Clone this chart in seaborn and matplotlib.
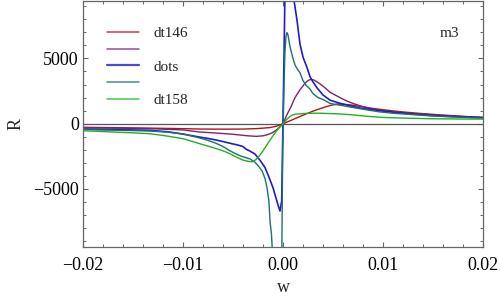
import numpy as np
import matplotlib
matplotlib.use("Agg")
import matplotlib.pyplot as plt
from matplotlib.lines import Line2D
from matplotlib.ticker import MultipleLocator
import seaborn as sns

# values (w, R)
red_w = [-0.02, -0.016, -0.0133, -0.01, -0.0083, -0.006, -0.004, -0.0027, -0.002, -0.0013,
         -0.0006, 0.0, 0.0007, 0.0013, 0.002, 0.003, 0.0037, 0.0043, 0.0047, 0.0054,
         0.006, 0.0063, 0.007, 0.0077, 0.0087, 0.0097, 0.011, 0.012, 0.0135, 0.0147,
         0.016, 0.0175, 0.0185, 0.02]
red_r = [-280, -310, -340, -380, -410, -420, -410, -380, -340, -300,
         -180, 0, 220, 420, 650, 960, 1150, 1300, 1390, 1500,
         1490, 1470, 1420, 1330, 1200, 1100, 980, 900, 800, 730,
         660, 590, 540, 490]

purple_w = [-0.02, -0.0167, -0.0133, -0.0115, -0.01, -0.0083, -0.007, -0.0053, -0.004, -0.0035,
            -0.0027, -0.002, -0.0015, -0.001, -0.0005, 0.0, 0.0002, 0.0004, 0.0008, 0.0012,
            0.0017, 0.0022, 0.0025, 0.0027, 0.003, 0.0032, 0.0037, 0.0042, 0.0047, 0.0052,
            0.0057, 0.0062, 0.0067, 0.0072, 0.008, 0.0088, 0.0097, 0.011, 0.0125, 0.0138,
            0.015, 0.0162, 0.0175, 0.019, 0.02]
purple_r = [-300, -340, -380, -430, -480, -640, -700, -790, -890, -930,
            -970, -930, -830, -670, -380, 0, 350, 700, 1300, 2000,
            2600, 3100, 3300, 3380, 3370, 3300, 3050, 2750, 2410, 2200,
            2000, 1800, 1640, 1500, 1300, 1150, 1020, 900, 800, 730,
            680, 620, 560, 510, 470]

blue_w = [-0.02, -0.0167, -0.0133, -0.0115, -0.01, -0.0083, -0.0075, -0.0067, -0.006, -0.0053,
          -0.0046, -0.004, -0.0037, -0.0033, -0.0028, -0.0023, -0.0018, -0.0014, -0.001, -0.0007,
          -0.00047, -0.0003, -0.00013, 0.0001, 0.00025, 0.0005, 0.0008, 0.0011, 0.0014, 0.0017,
          0.002, 0.0024, 0.0027, 0.003, 0.0034, 0.004, 0.0047, 0.0052, 0.0057, 0.0067,
          0.0077, 0.0087, 0.0097, 0.011, 0.0125, 0.0136, 0.0147, 0.016, 0.0175, 0.019, 0.02]
blue_r = [-410, -450, -510, -620, -800, -1030, -1130, -1250, -1370, -1500,
          -1620, -1750, -1950, -2100, -2330, -2800, -3360, -4100, -4900, -5700,
          -6300, -6690, -5920, 5000, 13000, 16000, 12500, 9460, 7920, 6100,
          5100, 4300, 3600, 3200, 2750, 2200, 1800, 1680, 1560, 1370,
          1200, 1100, 1000, 880, 780, 700, 640, 580, 530, 480, 450]

teal_w = [-0.02, -0.0167, -0.0133, -0.0115, -0.01, -0.0083, -0.0075, -0.0067, -0.006, -0.0053,
          -0.0048, -0.0043, -0.0038, -0.0033, -0.0028, -0.0024, -0.0021, -0.0018, -0.0016, -0.0014,
          -0.0013, -0.00115, -0.0011, -0.0009, -0.0006, -0.0003, -0.00012, -0.00003, 0.0001, 0.0002,
          0.0003, 0.0004, 0.0005, 0.0007, 0.001, 0.0012, 0.0015, 0.0017, 0.002, 0.0023,
          0.0027, 0.003, 0.0035, 0.004, 0.0047, 0.0052, 0.0057, 0.0067, 0.0077, 0.0087,
          0.0097, 0.011, 0.0125, 0.0136, 0.0147, 0.016, 0.0175, 0.019, 0.02]
teal_r = [-450, -500, -560, -650, -780, -1100, -1280, -1500, -1750, -2080,
          -2280, -2450, -2580, -2700, -2950, -3300, -3610, -4200, -4900, -6000,
          -7460, -8500, -9230, -12500, -16000, -16000, -10000, -2000, 3000, 5600,
          6700, 6980, 6800, 5900, 5000, 4500, 4100, 3900, 3300, 2950,
          2650, 2300, 2000, 1850, 1560, 1480, 1420, 1280, 1150, 1020,
          900, 800, 720, 660, 600, 550, 500, 450, 430]

green_w = [-0.02, -0.0183, -0.0167, -0.015, -0.0133, -0.012, -0.0115, -0.01, -0.0092, -0.0083,
           -0.0075, -0.0067, -0.006, -0.0053, -0.0047, -0.004, -0.0035, -0.0031, -0.0028, -0.0025,
           -0.0023, -0.002, -0.0018, -0.0015, -0.0012, -0.001, -0.0007, -0.0005, -0.0003, 0.0,
           0.0002, 0.0004, 0.0007, 0.001, 0.0013, 0.0017, 0.0023, 0.003, 0.0037, 0.0045,
           0.0057, 0.0067, 0.0077, 0.0087, 0.0097, 0.011, 0.0125, 0.0147, 0.016, 0.0175, 0.02]
green_r = [-540, -590, -650, -700, -770, -900, -960, -1150, -1330, -1540,
           -1720, -1900, -2080, -2300, -2550, -2790, -2880, -2920, -2800, -2600,
           -2400, -2080, -1850, -1500, -1150, -920, -620, -420, -250, 0,
           180, 350, 560, 680, 730, 750, 790, 800, 800, 780,
           750, 690, 620, 550, 490, 450, 420, 380, 370, 360, 350]

series = [
    ("dt146", red_w, red_r, "#b01515"),
    ("", purple_w, purple_r, "#7e2079"),
    ("dots", blue_w, blue_r, "#1e1ec8"),
    ("", teal_w, teal_r, "#1d6f70"),
    ("dt158", green_w, green_r, "#22b022"),
]

xticks = [-0.02, -0.01, 0.0, 0.01, 0.02]
xtick_labels = ["\u22120.02", "\u22120.01", "0.00", "0.01", "0.02"]
yticks = [-5000, 0, 5000]
ytick_labels = ["\u22125000", "0", "5000"]

sns.set_style("ticks")
plt.rcParams["font.family"] = ["Liberation Serif", "DejaVu Serif"]

fig = plt.figure(figsize=(5, 2.98), dpi=100)
ax = fig.add_axes([0.166, 0.171, 0.8, 0.827])

ax.axhline(0, color="#555555", lw=0.9, zorder=1)

handles = []
for name, w, r, col in series:
    lw = 1.2 if name == "dots" else 1.0
    sns.lineplot(x=w, y=r, color=col, lw=lw, ax=ax, estimator=None, sort=False)
    handles.append(Line2D([0], [0], color=col, lw=1.6 if name == "dots" else 1.1, alpha=0.8))

ax.set_xlim(-0.02, 0.02)
ax.set_ylim(-9450, 9430)
ax.set_xticks(xticks)
ax.set_xticklabels(xtick_labels)
ax.set_yticks(yticks)
ax.set_yticklabels(ytick_labels)
ax.xaxis.set_minor_locator(MultipleLocator(0.002))
ax.yaxis.set_minor_locator(MultipleLocator(1000))
ax.tick_params(which="both", direction="in", top=True, right=True, colors="#666666",
               labelcolor="black", labelsize=13)
ax.tick_params(which="major", length=3.8, width=0.8)
ax.tick_params(which="minor", length=2.2, width=0.7)
ax.tick_params(axis="x", pad=7)
ax.tick_params(axis="y", pad=3)
for sp in ax.spines.values():
    sp.set_visible(True)
    sp.set_color("#666666")
    sp.set_linewidth(0.9)

ax.set_xlabel("w", fontsize=13, labelpad=4)
ax.set_ylabel("R", fontsize=13, labelpad=6)

ax.legend(handles, [s[0] for s in series], loc="upper left", bbox_to_anchor=(0.045, 0.92),
          frameon=False, fontsize=11, handlelength=2.1, handletextpad=0.95,
          labelspacing=0.2, borderaxespad=0)

ax.text(0.915, 0.866, "m3", transform=ax.transAxes, fontsize=11, ha="center", va="center")

fig.savefig("out.png", dpi=100)
